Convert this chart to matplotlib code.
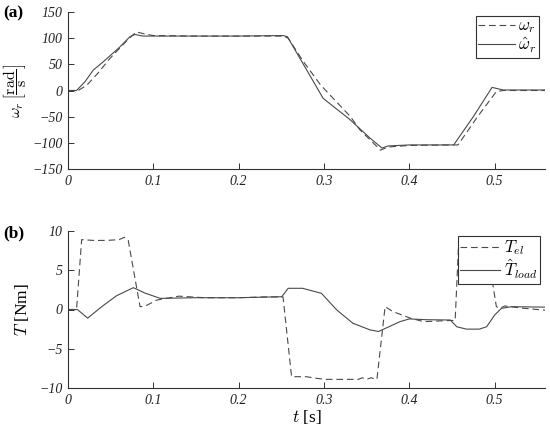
import matplotlib
matplotlib.use("Agg")
import matplotlib.pyplot as plt

plt.rcParams['font.family'] = ['Liberation Serif', 'DejaVu Serif']
plt.rcParams['mathtext.fontset'] = 'cm'

# --- (a) speed ---
t_w = [0, 0.012, 0.022, 0.035, 0.049, 0.060, 0.070, 0.080, 0.090, 0.100, 0.150, 0.200, 0.252,
       0.258, 0.276, 0.296, 0.331, 0.342, 0.362, 0.366, 0.375, 0.400, 0.450, 0.457,
       0.480, 0.502, 0.510, 0.560]
w_r = [0, 0, 10, 33, 61, 80, 97, 112, 108, 105, 104, 104, 104,
       100, 55, 10.5, -50, -75, -107, -114, -108, -105, -104, -104,
       -50, -2, 0, 0]

t_wh = [0, 0.010, 0.020, 0.0296, 0.0414, 0.060, 0.0727, 0.0785, 0.088, 0.100, 0.150, 0.200,
        0.252, 0.257, 0.299, 0.330, 0.354, 0.368, 0.375, 0.400, 0.452, 0.475,
        0.497, 0.502, 0.510, 0.560]
w_hat = [0, 0, 17, 39, 55, 82, 103, 107, 104, 104, 104, 104,
         105, 103, -15, -55, -91, -110, -106, -104, -104, -50,
         6, 4, 1, 1]

# --- (b) torque ---
t_T = [0, 0.010, 0.016, 0.030, 0.045, 0.060, 0.066, 0.070, 0.0706, 0.0844, 0.090, 0.104,
       0.130, 0.160, 0.200, 0.230, 0.252, 0.262, 0.279, 0.300, 0.340, 0.345, 0.350,
       0.355, 0.362, 0.3716, 0.381, 0.389, 0.401, 0.417, 0.447, 0.4537, 0.458, 0.490,
       0.4967, 0.502, 0.506, 0.512, 0.530, 0.560]
T_el = [0, 0, 8.9, 8.8, 8.8, 8.9, 9.2, 8.8, 8.8, 0.36, 0.4, 1.2,
        1.7, 1.5, 1.5, 1.6, 1.6, -8.56, -8.56, -8.9, -8.9, -8.7, -8.9,
        -8.7, -8.9, 0.36, -0.28, -0.6, -1.1, -1.55, -1.4, -1.4, 8.9, 8.9,
        4.0, 0.36, 0.15, 0.45, 0.2, -0.1]

t_Tl = [0, 0.011, 0.023, 0.040, 0.057, 0.0766, 0.090, 0.108, 0.150, 0.200, 0.2505,
        0.258, 0.275, 0.297, 0.315, 0.334, 0.354, 0.364, 0.368, 0.389, 0.400, 0.420,
        0.448, 0.4556, 0.467, 0.482, 0.4906, 0.500, 0.508, 0.520, 0.560]
T_load = [0, 0, -1.1, 0.4, 1.76, 2.78, 2.1, 1.42, 1.5, 1.5, 1.63,
          2.7, 2.7, 2.06, -0.06, -1.76, -2.6, -2.8, -2.6, -1.55, -1.2, -1.3,
          -1.34, -2.2, -2.5, -2.5, -2.2, -0.7, 0.15, 0.36, 0.3]

x_ticks = [0, 0.1, 0.2, 0.3, 0.4, 0.5]
x_ticklabels = ['0', '0.1', '0.2', '0.3', '0.4', '0.5']
y_ticks_a = [-150, -100, -50, 0, 50, 100, 150]
y_ticks_b = [-10, -5, 0, 5, 10]

col = '#4a4a4a'
dash = (0, (6, 3.5))

fig = plt.figure(figsize=(5.5, 4.28), dpi=100)
ax1 = fig.add_axes([68/550, 1-169/428, (545-68)/550, (169-12)/428])
ax2 = fig.add_axes([68/550, 1-388/428, (545-68)/550, (388-231)/428])

ax1.plot(t_w, w_r, color=col, lw=0.8, ls=dash, label=r'$\omega_r$')
ax1.plot(t_wh, w_hat, color=col, lw=0.8, ls='-', label=r'$\hat{\omega}_r$')
ax2.plot(t_T, T_el, color=col, lw=0.8, ls=dash, label=r'$T_{el}$')
ax2.plot(t_Tl, T_load, color=col, lw=0.8, ls='-', label=r'$\hat{T}_{load}$')

for ax, yt in ((ax1, y_ticks_a), (ax2, y_ticks_b)):
    ax.set_xlim(0, 0.559)
    ax.set_xticks(x_ticks)
    ax.set_xticklabels(x_ticklabels)
    ax.set_yticks(yt)
    ax.set_yticklabels([('\u2212' + str(abs(v))) if v < 0 else str(v) for v in yt])
    ax.set_ylim(yt[0], yt[-1])
    for s in ('top', 'right'):
        ax.spines[s].set_visible(False)
    for s in ('left', 'bottom'):
        ax.spines[s].set_color('#333333')
        ax.spines[s].set_linewidth(0.8)
    ax.tick_params(direction='in', length=4, width=0.7, colors='#333333',
                   labelsize=10, pad=4)
    for lab in ax.get_xticklabels() + ax.get_yticklabels():
        lab.set_fontstyle('italic')
        lab.set_color('#222222')

ax1.set_ylabel(r'$\omega_r\,\left[\dfrac{\mathrm{rad}}{\mathrm{s}}\right]$', fontsize=11.5, labelpad=2)
ax2.set_ylabel(r'$T$ [Nm]', fontsize=12.5, labelpad=6)
ax2.set_xlabel(r'$t$ [s]', fontsize=12.5, labelpad=1)

leg1 = ax1.legend(loc='upper right', bbox_to_anchor=(1-6/477, 1-4/157), fontsize=12,
                  handlelength=2.2, handletextpad=0.2, borderpad=0.15, labelspacing=0.0,
                  fancybox=False, framealpha=1, edgecolor='#333333', borderaxespad=0)
leg1.get_frame().set_linewidth(0.8)
leg2 = ax2.legend(loc='upper right', bbox_to_anchor=(1-5/477, 1-5/157), fontsize=12,
                  handlelength=2.4, handletextpad=0.2, borderpad=0.15, labelspacing=0.0,
                  fancybox=False, framealpha=1, edgecolor='#333333', borderaxespad=0)
leg2.get_frame().set_linewidth(0.8)

fig.text(3/550, 1-17/428, '(a)', fontsize=12.5, fontweight='bold')
fig.text(3/550, 1-237/428, '(b)', fontsize=12.5, fontweight='bold')

fig.savefig('out.png', dpi=100)
